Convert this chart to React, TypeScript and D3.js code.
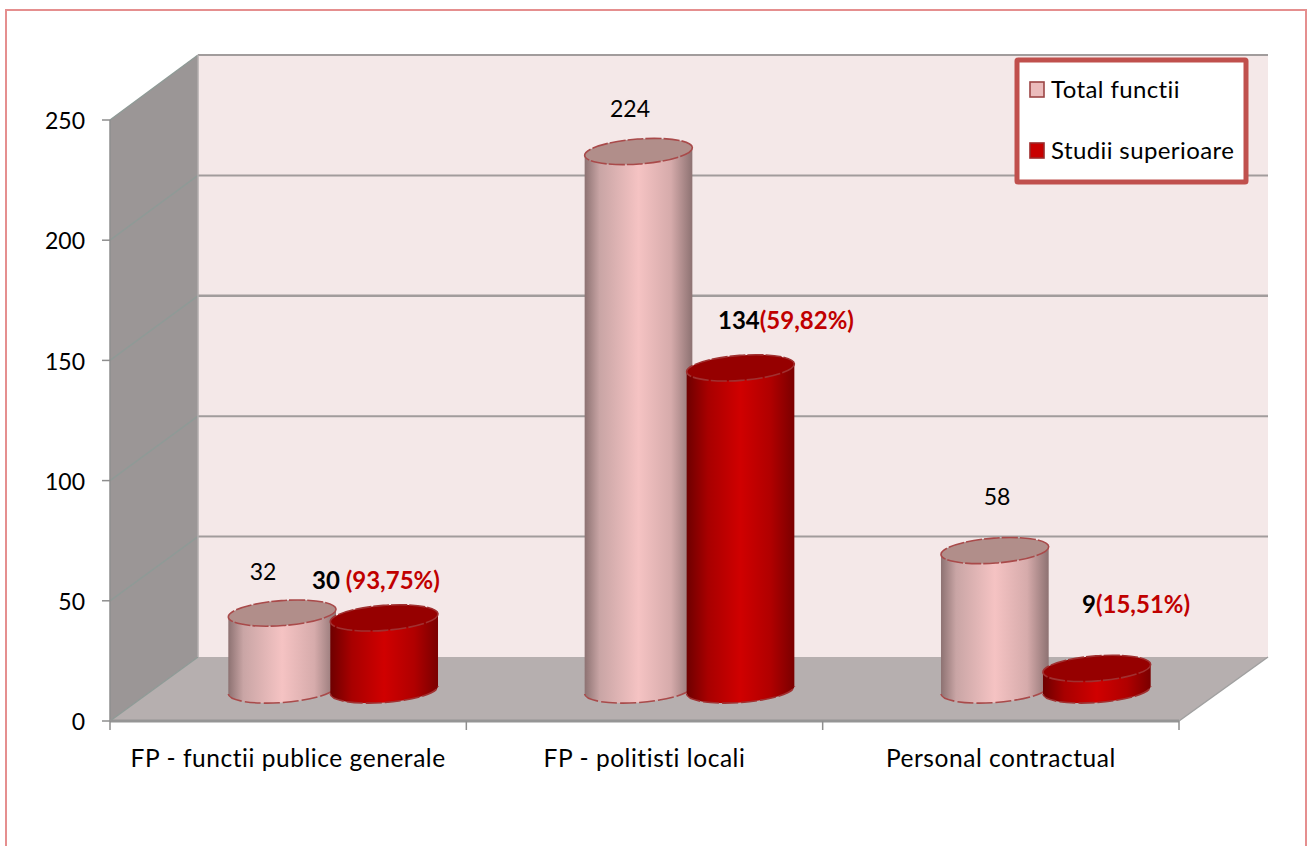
import React from "react";
import * as d3 from "d3";

const categories = ["FP - functii publice generale", "FP - politisti locali", "Personal contractual"];
const seriesNames = ["Total functii", "Studii superioare"];
const totalValues = [32, 224, 58];
const superiorValues = [30, 134, 9];
const superiorLabels = [
  { bold: "30 ", pct: "(93,75%)" },
  { bold: "134", pct: "(59,82%)" },
  { bold: "9", pct: "(15,51%)" },
];
const yTicks = [0, 50, 100, 150, 200, 250];

const W = 1312, H = 846;
const FONT = "Lato, 'Open Sans', sans-serif";
const frontX0 = 110, frontX1 = 1179, backX0 = 198, backX1 = 1268;
const frontY = d3.scaleLinear().domain([0, 250]).range([721, 120]);
const backY = d3.scaleLinear().domain([0, 250]).range([657, 55]);
const barY = d3.scaleLinear().domain([0, 250]).range([690, 89]);
const groupX = d3.scaleBand<number>().domain([0, 1, 2]).range([frontX0, frontX1]);

const RX = 54, RY = 12.5, TILT = -4.3;
const rad = (TILT * Math.PI) / 180;
const dx = RX * Math.cos(rad), dy = RX * Math.sin(rad);
const noLig = { fontVariantLigatures: "none" } as React.CSSProperties;

function cylinderBody(cx: number, top: number, bottom: number) {
  return `M${cx - dx},${top - dy} L${cx - dx},${bottom - dy} A${RX},${RY} ${TILT} 0 0 ${cx + dx},${bottom + dy} L${cx + dx},${top + dy} Z`;
}
function bottomArc(cx: number, bottom: number) {
  return `M${cx - dx},${bottom - dy} A${RX},${RY} ${TILT} 0 0 ${cx + dx},${bottom + dy}`;
}

function Cylinder({ cx, value, grad, topFill, stroke }: { cx: number; value: number; grad: string; topFill: string; stroke: string }) {
  const top = barY(value), bottom = barY(0);
  return (
    <g>
      <path d={cylinderBody(cx, top, bottom)} fill={`url(#${grad})`} />
      <path d={bottomArc(cx, bottom)} fill="none" stroke={stroke} strokeWidth={1.6} strokeDasharray="16 3" />
      <ellipse cx={cx} cy={top} rx={RX} ry={RY} transform={`rotate(${TILT} ${cx} ${top})`} fill={topFill} stroke={stroke} strokeWidth={1.6} strokeDasharray="16 2" />
    </g>
  );
}

export default function App() {
  const groupW = groupX.bandwidth();
  const center = (i: number) => (groupX(i) as number) + groupW / 2;
  const valueLabelX = [263, 630, 997];
  const valueLabelY = [572, 109, 497];
  const supLabelX = [312, 718, 1082];
  const supLabelY = [580, 320, 604];
  return (
    <svg width={W} height={H} style={{ position: "fixed", left: 0, top: 0, display: "block", background: "#fff" }} fontFamily={FONT}>
      <defs>
        <linearGradient id="pinkG" x1="0" x2="1" y1="0" y2="0">
          <stop offset="0" stopColor="#8d7272" />
          <stop offset="0.14" stopColor="#c9a5a5" />
          <stop offset="0.5" stopColor="#f5c3c3" />
          <stop offset="0.8" stopColor="#d6abab" />
          <stop offset="1" stopColor="#8d7272" />
        </linearGradient>
        <linearGradient id="redG" x1="0" x2="1" y1="0" y2="0">
          <stop offset="0" stopColor="#6e0000" />
          <stop offset="0.2" stopColor="#a80000" />
          <stop offset="0.5" stopColor="#d00000" />
          <stop offset="0.78" stopColor="#b00000" />
          <stop offset="1" stopColor="#7a0000" />
        </linearGradient>
      </defs>
      <rect x={6} y={10} width={1300} height={H + 20} fill="#fff" stroke="#e58f8f" strokeWidth={2} />

      <polygon points={`${backX0},${backY(0)} ${backX1},${backY(0)} ${backX1},${backY(250)} ${backX0},${backY(250)}`} fill="#f4e8e8" />
      <polygon points={`${frontX0},${frontY(0)} ${backX0},${backY(0)} ${backX0},${backY(250)} ${frontX0},${frontY(250)}`} fill="#9b9696" />
      <polygon points={`${frontX0},${frontY(0)} ${backX0},${backY(0)} ${backX1},${backY(0)} ${frontX1},${frontY(0)}`} fill="#b6afaf" />

      {yTicks.map((t) => (
        <g key={t}>
          <line x1={frontX0} x2={backX0} y1={frontY(t)} y2={backY(t)} stroke="#8f9a96" strokeWidth={1.5} />
          {t > 0 && <line x1={backX0} x2={backX1} y1={backY(t)} y2={backY(t)} stroke="#a19c9c" strokeWidth={t === 150 ? 2.5 : 2} />}
          <line x1={102} x2={frontX0} y1={frontY(t)} y2={frontY(t)} stroke="#8e8e8e" strokeWidth={1.5} />
          <text x={85} y={frontY(t) + 1} dy="0.36em" textAnchor="end" fontSize={23} fill="#000">{t}</text>
        </g>
      ))}
      <line x1={backX0} x2={backX0} y1={backY(0)} y2={backY(250)} stroke="#b3aeae" strokeWidth={1.5} />
      <line x1={frontX0} x2={frontX0} y1={frontY(0)} y2={frontY(250)} stroke="#8e8e8e" strokeWidth={1.5} />
      <line x1={frontX0} x2={frontX1} y1={frontY(0)} y2={frontY(0)} stroke="#959595" strokeWidth={3} />
      <line x1={frontX1} x2={backX1} y1={frontY(0)} y2={backY(0)} stroke="#a0a0a0" strokeWidth={1.5} />
      {[0, 1, 2, 3].map((i) => {
        const x = i < 3 ? (groupX(i) as number) : frontX1;
        return <line key={i} x1={x} x2={x} y1={721} y2={730} stroke="#8e8e8e" strokeWidth={1.5} />;
      })}
      {categories.map((c, i) => (
        <text key={c} x={center(i)} y={758} dy="0.36em" textAnchor="middle" fontSize={24.5} letterSpacing={0.55} fill="#000" style={noLig}>{c}</text>
      ))}

      {categories.map((c, i) => (
        <g key={c}>
          <Cylinder cx={center(i) - 6} value={totalValues[i]} grad="pinkG" topFill="#b18e8a" stroke="#a94a4a" />
          <Cylinder cx={center(i) + 96} value={superiorValues[i]} grad="redG" topFill="#960000" stroke="#a03030" />
        </g>
      ))}

      {totalValues.map((v, i) => (
        <text key={i} x={valueLabelX[i]} y={valueLabelY[i]} dy="0.36em" textAnchor="middle" fontSize={23} fill="#000">{v}</text>
      ))}
      {superiorLabels.map((l, i) => (
        <text key={i} x={supLabelX[i]} y={supLabelY[i]} dy="0.36em" fontSize={24} fontWeight={700} style={{ whiteSpace: "pre" }}>
          <tspan fill="#000">{l.bold}</tspan>
          <tspan fill="#c00000">{l.pct}</tspan>
        </text>
      ))}

      <rect x={1017} y={60} width={229} height={122} fill="#fff" stroke="#c0504d" strokeWidth={5} rx={1} />
      {seriesNames.map((s, i) => (
        <g key={s}>
          <rect x={1030} y={i === 0 ? 82 : 143} width={14} height={15} fill={i === 0 ? "#ebbcbc" : "#c80000"} stroke={i === 0 ? "#9c4545" : "#9c2a2a"} strokeWidth={1.6} />
          <text x={1051} y={i === 0 ? 89 : 150} dy="0.36em" fontSize={24} letterSpacing={0.4} fill="#000" style={noLig}>{s}</text>
        </g>
      ))}
    </svg>
  );
}
